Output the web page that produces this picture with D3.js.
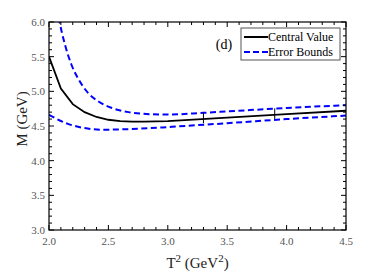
<!DOCTYPE html>
<html>
<head>
<meta charset="utf-8">
<script src="https://cdn.jsdelivr.net/npm/d3@7"></script>
<style>
    body { margin: 0; background: #fff; }
</style>
</head>
<body>
<svg id="chart" width="382" height="273" font-family="Liberation Serif, serif"></svg>
<script>
// Borel window plot: mass vs T^2
const centralT = [2.0, 2.1, 2.2, 2.3, 2.4, 2.5, 2.6, 2.7, 2.8, 3.0, 3.5, 4.0, 4.5];
const centralM = [5.50, 5.04, 4.815, 4.70, 4.63, 4.59, 4.57, 4.563, 4.563, 4.57, 4.62, 4.67, 4.72];

const upperT = [2.07, 2.09, 2.135, 2.19, 2.25, 2.33, 2.42, 2.53, 2.67, 2.86, 3.0, 3.3, 3.5, 4.0, 4.5];
const upperM = [6.20, 6.00, 5.67, 5.38, 5.17, 4.975, 4.85, 4.76, 4.70, 4.67, 4.665, 4.69, 4.71, 4.76, 4.80];

const lowerT = [2.0, 2.16, 2.3, 2.44, 2.67, 2.86, 3.0, 3.5, 4.0, 4.5];
const lowerM = [4.66, 4.53, 4.47, 4.446, 4.455, 4.47, 4.485, 4.54, 4.60, 4.65];

// window edges drawn as short vertical bars
const markerT = [3.3, 3.9];
const markerLo = [4.54, 4.60];
const markerHi = [4.69, 4.755];

const xTicks = [2.0, 2.5, 3.0, 3.5, 4.0, 4.5];
const yTicks = [3.0, 3.5, 4.0, 4.5, 5.0, 5.5, 6.0];

const margin = {top: 22, right: 36, bottom: 43, left: 49};
const width = 382 - margin.left - margin.right;
const height = 273 - margin.top - margin.bottom;

const svg = d3.select('#chart');
const g = svg.append('g').attr('transform', `translate(${margin.left},${margin.top})`);

const x = d3.scaleLinear().domain([2.0, 4.5]).range([0, width]);
const y = d3.scaleLinear().domain([3.0, 6.0]).range([height, 0]);

svg.append('defs').append('clipPath').attr('id', 'plotClip')
    .append('rect').attr('width', width).attr('height', height);

const zip = (ts, ms) => ts.map((t, i) => [t, ms[i]]);

const plot = g.append('g').attr('clip-path', 'url(#plotClip)');

const lineLinear = d3.line().x(d => x(d[0])).y(d => y(d[1]));
const lineSmooth = d3.line().x(d => x(d[0])).y(d => y(d[1])).curve(d3.curveMonotoneX);

plot.append('path')
    .datum(zip(upperT, upperM))
    .attr('d', lineSmooth)
    .attr('fill', 'none')
    .attr('stroke', '#0000ff')
    .attr('stroke-width', 2)
    .attr('stroke-dasharray', '6,3.5');

plot.append('path')
    .datum(zip(lowerT, lowerM))
    .attr('d', lineSmooth)
    .attr('fill', 'none')
    .attr('stroke', '#0000ff')
    .attr('stroke-width', 2)
    .attr('stroke-dasharray', '6,3.5');

plot.append('path')
    .datum(zip(centralT, centralM))
    .attr('d', lineLinear)
    .attr('fill', 'none')
    .attr('stroke', '#000')
    .attr('stroke-width', 1.8);

markerT.forEach((t, i) => {
    plot.append('line')
        .attr('x1', x(t)).attr('x2', x(t))
        .attr('y1', y(markerLo[i])).attr('y2', y(markerHi[i]))
        .attr('stroke', '#000')
        .attr('stroke-width', 1);
});

// Axes with inward ticks on all sides
const xMinor = d3.range(20, 46).map(v => v / 10);
const yMinor = d3.range(30, 61).map(v => v / 10);

function drawTicks(values, major, isX) {
    values.forEach(v => {
        const isMajor = major.some(m => Math.abs(m - v) < 1e-6);
        const len = isMajor ? 5 : 3;
        if (isX) {
            const px = x(v);
            g.append('line').attr('x1', px).attr('x2', px)
                .attr('y1', height).attr('y2', height - len)
                .attr('stroke', '#000').attr('stroke-width', 1);
            g.append('line').attr('x1', px).attr('x2', px)
                .attr('y1', 0).attr('y2', len)
                .attr('stroke', '#000').attr('stroke-width', 1);
        } else {
            const py = y(v);
            g.append('line').attr('x1', 0).attr('x2', len)
                .attr('y1', py).attr('y2', py)
                .attr('stroke', '#000').attr('stroke-width', 1);
            g.append('line').attr('x1', width).attr('x2', width - len)
                .attr('y1', py).attr('y2', py)
                .attr('stroke', '#000').attr('stroke-width', 1);
        }
    });
}
drawTicks(xMinor, xTicks, true);
drawTicks(yMinor, yTicks, false);

g.append('rect')
    .attr('width', width).attr('height', height)
    .attr('fill', 'none').attr('stroke', '#000').attr('stroke-width', 1.2);

// Tick labels
g.selectAll('.xlab').data(xTicks).enter().append('text')
    .attr('x', d => x(d))
    .attr('y', height + 15)
    .attr('text-anchor', 'middle')
    .attr('font-size', 11)
    .attr('fill', '#555')
    .text(d => d.toFixed(1));

g.selectAll('.ylab').data(yTicks).enter().append('text')
    .attr('x', -4)
    .attr('y', d => y(d) + 4)
    .attr('text-anchor', 'end')
    .attr('font-size', 11)
    .attr('fill', '#555')
    .text(d => d.toFixed(1));

// Axis titles
const xTitle = svg.append('text')
    .attr('x', margin.left + width / 2)
    .attr('y', 268)
    .attr('text-anchor', 'middle')
    .attr('font-size', 15)
    .attr('fill', '#222');
xTitle.append('tspan').text('T');
xTitle.append('tspan').attr('dy', -6).attr('font-size', 11).text('2');
xTitle.append('tspan').attr('dy', 6).text(' (GeV');
xTitle.append('tspan').attr('dy', -6).attr('font-size', 11).text('2');
xTitle.append('tspan').attr('dy', 6).text(')');

svg.append('text')
    .attr('transform', 'translate(27,119) rotate(-90)')
    .attr('text-anchor', 'middle')
    .attr('font-size', 15)
    .attr('fill', '#222')
    .text('M (GeV)');

// Panel tag
svg.append('text')
    .attr('x', 224).attr('y', 49)
    .attr('text-anchor', 'middle')
    .attr('font-size', 14)
    .text('(d)');

// Legend
const legend = svg.append('g').attr('transform', 'translate(241,28)');
legend.append('rect')
    .attr('width', 99).attr('height', 32)
    .attr('fill', '#fff').attr('stroke', '#555').attr('stroke-width', 1);

const legendItems = [
    {name: 'Central Value', color: '#000', dash: null},
    {name: 'Error Bounds', color: '#0000ff', dash: '6,3'}
];
legendItems.forEach((item, i) => {
    const yy = 9 + i * 15;
    const ln = legend.append('line')
        .attr('x1', 3).attr('x2', 27)
        .attr('y1', yy).attr('y2', yy)
        .attr('stroke', item.color)
        .attr('stroke-width', 2);
    if (item.dash) ln.attr('stroke-dasharray', item.dash);
    legend.append('text')
        .attr('x', 27).attr('y', yy + 4)
        .attr('font-size', 12)
        .text(item.name);
});
</script>
</body>
</html>
